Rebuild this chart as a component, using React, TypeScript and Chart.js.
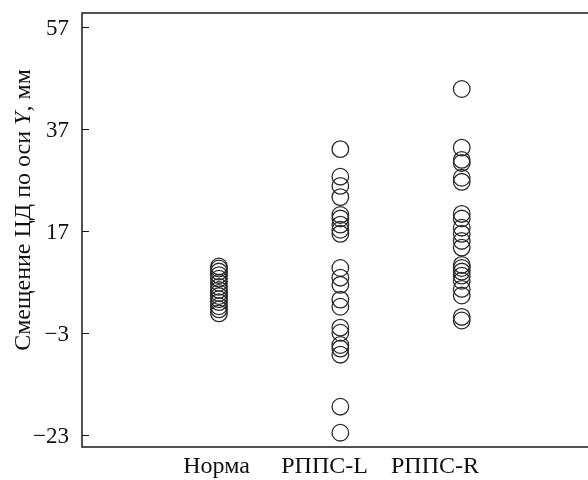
import React, { useEffect, useRef } from "react";
import { Chart, registerables } from "chart.js";

Chart.register(...registerables);

const categories = ["Норма", "РППС-L", "РППС-R"];
const categoryPositions = [1, 2, 3];
const labelPositions = [0.98, 1.87, 2.78];
const normaValues = [10.0, 9.6, 9.0, 8.3, 7.6, 6.8, 6.0, 5.4, 4.8, 4.2, 3.6, 3.0, 2.2, 1.6, 0.8];
const rppsLValues = [33, 27.6, 25.8, 23.6, 20.1, 19.4, 18.2, 17.2, 16.4, 9.7, 7.8, 6.4, 3.5, 2.1, -2.0, -3.0, -5.4, -6.1, -7.3, -17.5, -22.6];
const rppsRValues = [44.8, 33.3, 30.9, 30.3, 27.4, 26.6, 20.3, 19.4, 17.6, 16.4, 15.0, 13.7, 10.3, 9.7, 9.0, 8.2, 7.2, 5.6, 4.3, 0.1, -0.6];
const yTicks = [57, 37, 17, -3, -23];
const yTickLabels = ["57", "37", "17", "\u22123", "\u221223"];

const seriesValues = [normaValues, rppsLValues, rppsRValues];

const FONT = "'Liberation Serif', 'DejaVu Serif', serif";

const framePlugin = {
  id: "frame",
  afterDraw(chart: any) {
    const ctx = chart.ctx;
    const { left, top, right, bottom } = chart.chartArea;
    const ys = chart.scales.y;
    const xs = chart.scales.x;
    ctx.save();
    ctx.strokeStyle = "#1a1a1a";
    ctx.lineWidth = 1.5;
    ctx.beginPath();
    ctx.moveTo(right + 2, top);
    ctx.lineTo(left, top);
    ctx.lineTo(left, bottom);
    ctx.lineTo(right + 2, bottom);
    ctx.stroke();
    ctx.lineWidth = 1;
    ctx.fillStyle = "#111";
    yTicks.forEach((v, i) => {
      const y = Math.round(ys.getPixelForValue(v)) + 0.5;
      ctx.beginPath();
      ctx.moveTo(left, y);
      ctx.lineTo(left + 7, y);
      ctx.stroke();
      ctx.font = "23px " + FONT;
      ctx.textAlign = "right";
      ctx.textBaseline = "middle";
      ctx.fillText(yTickLabels[i], left - 13, y + 1);
    });
    ctx.font = "24px " + FONT;
    ctx.textAlign = "center";
    ctx.textBaseline = "middle";
    categories.forEach((c, i) => {
      ctx.fillText(c, xs.getPixelForValue(labelPositions[i]), bottom + 20);
    });
    const parts = [
      { t: "Смещение ЦД по оси ", f: "24px " + FONT },
      { t: "Y", f: "italic 24px " + FONT },
      { t: ", мм", f: "24px " + FONT },
    ];
    let total = 0;
    parts.forEach((p) => {
      ctx.font = p.f;
      total += ctx.measureText(p.t).width;
    });
    ctx.translate(24, 210);
    ctx.rotate(-Math.PI / 2);
    ctx.textAlign = "left";
    let x = -total / 2;
    parts.forEach((p) => {
      ctx.font = p.f;
      ctx.fillText(p.t, x, 0);
      x += ctx.measureText(p.t).width;
    });
    ctx.restore();
  },
};

export default function App() {
  const ref = useRef<HTMLCanvasElement | null>(null);
  useEffect(() => {
    if (!ref.current) return;
    const chart = new Chart(ref.current, {
      type: "scatter",
      data: {
        datasets: seriesValues.map((vals, i) => ({
          label: categories[i],
          data: vals.map((v) => ({ x: categoryPositions[i], y: v })),
          pointRadius: 8.3,
          pointBorderWidth: 1.3,
          pointBorderColor: "#2a2a2a",
          pointBackgroundColor: "rgba(0,0,0,0)",
          pointHoverRadius: 8.3,
        })),
      },
      options: {
        animation: false,
        responsive: false,
        maintainAspectRatio: false,
        layout: { autoPadding: false, padding: { left: 82, top: 13, right: 0, bottom: 33 } },
        plugins: { legend: { display: false }, tooltip: { enabled: false } },
        scales: {
          x: { type: "linear", display: false, min: -0.128, max: 4.04 },
          y: { type: "linear", display: false, min: -25.4, max: 59.7 },
        },
      },
      plugins: [framePlugin],
    });
    return () => chart.destroy();
  }, []);
  return (
    <div style={{ position: "fixed", left: 0, top: 0, width: 588, height: 480, background: "#fff" }}>
      <canvas ref={ref} width={588} height={480} style={{ width: 588, height: 480 }} />
    </div>
  );
}
